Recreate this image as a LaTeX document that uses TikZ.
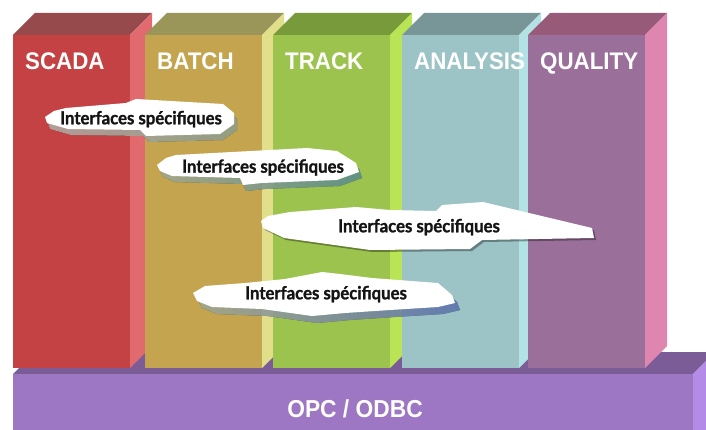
\documentclass[tikz,border=0pt]{standalone}
\usepackage{fontspec}
\setmainfont{Liberation Sans}
\newfontfamily\colfont[FakeStretch=0.93]{Liberation Sans}
\newfontfamily\callfont[FakeBold=1.2,FakeStretch=0.93]{Lato}
\definecolor{scadaF}{HTML}{C44244}\definecolor{scadaT}{HTML}{964A4C}\definecolor{scadaS}{HTML}{E06A6E}
\definecolor{batchF}{HTML}{C4A44E}\definecolor{batchT}{HTML}{9A9558}\definecolor{batchS}{HTML}{E2DF8A}
\definecolor{trackF}{HTML}{9DC34F}\definecolor{trackT}{HTML}{789A3A}\definecolor{trackS}{HTML}{B8E456}
\definecolor{anaF}{HTML}{9CC3C5}\definecolor{anaT}{HTML}{789697}\definecolor{anaS}{HTML}{B3E2E5}
\definecolor{qualF}{HTML}{9A709A}\definecolor{qualT}{HTML}{975A78}\definecolor{qualS}{HTML}{DE86B0}
\definecolor{baseF}{HTML}{9D77C3}\definecolor{baseT}{HTML}{7B5C97}\definecolor{baseS}{HTML}{B48BE6}
\definecolor{shA}{HTML}{E8D8D0}\definecolor{shB}{HTML}{B8CCB0}
\definecolor{shC}{HTML}{D0D8B8}\definecolor{shD}{HTML}{78B8B0}\definecolor{shE}{HTML}{7898E0}
\definecolor{txtdark}{HTML}{141414}
% column: x0, front, top, side, label, name
\newcommand\mycolumn[6]{%
  \fill[#3] (#1,35) -- (#1+22,13) -- (#1+139,13) -- (#1+117,35) -- cycle;
  \fill[#4] (#1+117,35) -- (#1+139,13) -- (#1+139,346) -- (#1+117,368) -- cycle;
  \fill[#2] (#1,35) rectangle (#1+117,368);
  \node[collabel] (#6) at (#1+12,70) {#5};
}
\newcommand\calloutA[1]{\fill[#1] (45,117) -- (54,111) -- (66,108) -- (126,103) -- (136,99) -- (223,104) -- (234,113) -- (234,124) -- (220,134) -- (146,136) -- (140,130) -- (68,129) -- (47,123) -- cycle;}
\newcommand\calloutB[1]{\fill[#1] (157,165) -- (166,158) -- (176,155) -- (307,148) -- (337,151) -- (356,163) -- (359,172) -- (337,180) -- (262,183) -- (243,185) -- (240,178) -- (172,176) -- (160,171) -- cycle;}
\newcommand\calloutC[1]{\fill[#1] (261,221) -- (268,216) -- (290,212) -- (356,207) -- (390,210) -- (436,211) -- (442,205) -- (483,202) -- (592,228) -- (594,238) -- (482,240) -- (470,249) -- (370,250) -- (284,238) -- (263,228) -- cycle;}
\newcommand\calloutD[1]{\fill[#1] (193,293) -- (205,286) -- (245,283) -- (285,279) -- (322,272) -- (340,274) -- (372,278) -- (438,283) -- (452,295) -- (455,303) -- (438,307) -- (390,310) -- (345,313) -- (312,316) -- (262,309) -- (212,307) -- (197,301) -- cycle;}
\begin{document}
\begin{tikzpicture}[x=1pt,y=-1pt,
  collabel/.style={text=white, font=\colfont\bfseries\fontsize{24}{24}\selectfont, anchor=base west, inner sep=0pt},
  baselabel/.style={text=white, font=\colfont\bfseries\fontsize{24.5}{24.5}\selectfont, anchor=base, inner sep=0pt},
  calltext/.style={text=txtdark, font=\callfont\bfseries\fontsize{18}{18}\selectfont, anchor=base, inner sep=0pt},
  shadowone/.style={left color=shA, right color=shB, fill opacity=0.7},
  shadowtwo/.style={left color=shC, right color=shD, fill opacity=0.7},
  shadowfour/.style={left color=shC, middle color=shD, right color=shE, fill opacity=0.7},
  shadowgray/.style={fill=black, fill opacity=0.35}]
\useasboundingbox (0,0) rectangle (706,430);
\clip (0,0) rectangle (706,430);
% base
\fill[baseT] (13,374) -- (35,352) -- (715,352) -- (693,374) -- cycle;
\fill[baseS] (693,374) -- (715,352) -- (715,440) -- (693,440) -- cycle;
\fill[baseF] (13,374) rectangle (693,440);
\node[baselabel] (opc) at (355,417) {OPC / ODBC};
% columns
\mycolumn{13}{scadaF}{scadaT}{scadaS}{SCADA}{scada}
\mycolumn{145}{batchF}{batchT}{batchS}{BATCH}{batch}
\mycolumn{273}{trackF}{trackT}{trackS}{TRACK}{track}
\mycolumn{402}{anaF}{anaT}{anaS}{ANALYSIS}{analysis}
\mycolumn{528}{qualF}{qualT}{qualS}{QUALITY}{quality}
% callouts
\calloutA{shadowone, shift={(3,6)}}
\calloutA{white}
\node[calltext] (ifA) at (141,124.3) {Interfaces spécifiques};
\calloutB{shadowtwo, shift={(3,6)}}
\calloutB{white}
\node[calltext] (ifB) at (263,172.7) {Interfaces spécifiques};
\calloutC{shadowgray, shift={(2,2)}}
\calloutC{white}
\node[calltext] (ifC) at (419,232.3) {Interfaces spécifiques};
\calloutD{shadowfour, shift={(5,7)}}
\calloutD{white}
\node[calltext] (ifD) at (326,299.3) {Interfaces spécifiques};
\end{tikzpicture}
\end{document}
